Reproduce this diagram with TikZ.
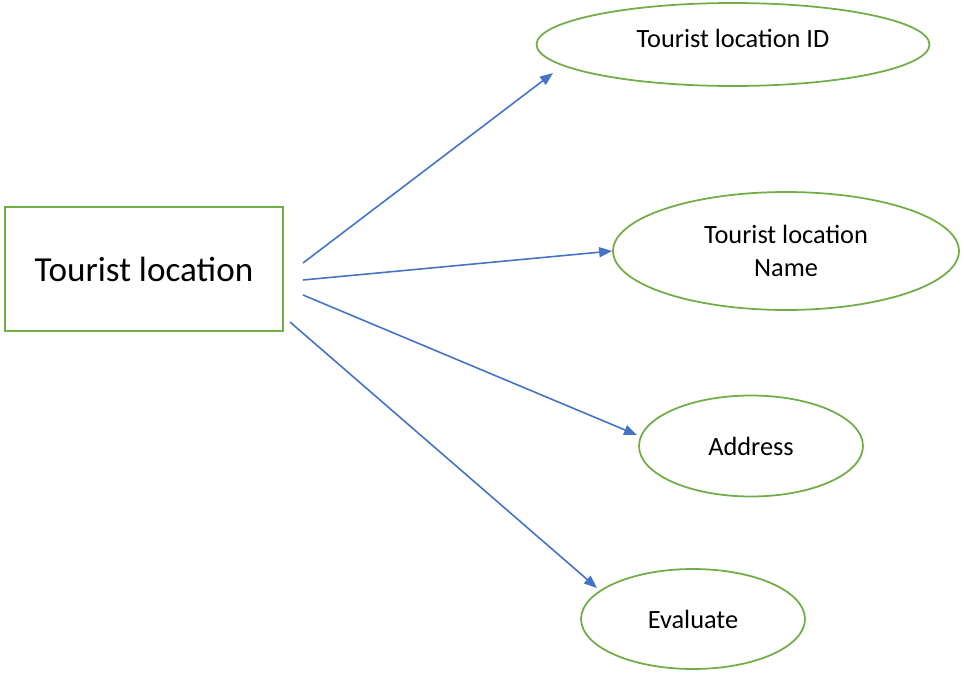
\documentclass[tikz,border=0pt]{standalone}
\usepackage{fontspec}
\setmainfont{Carlito}
\usetikzlibrary{arrows.meta,shapes.geometric}
\definecolor{tlgreen}{HTML}{70AD47}
\definecolor{tlblue}{HTML}{4472C4}

\begin{document}
\begin{tikzpicture}[x=0.02cm,y=-0.02cm,
  entitybox/.style={draw=tlgreen,line width=1pt,inner sep=0pt,
    minimum width=5.56cm,minimum height=2.48cm,font=\fontsize{20}{24}\selectfont},
  attr/.style={ellipse,draw=tlgreen,line width=1pt,inner sep=0pt,align=center,
    font=\fontsize{15}{18.5}\selectfont},
  conn/.style={tlblue,line width=0.9pt,-{Triangle[length=2.6mm,width=2mm]}}]
  \useasboundingbox (0,0) rectangle (964,673);
  % entity and its attributes
  \node[entitybox] (loc) at (144,269) {Tourist location};
  \node[attr,minimum width=7.86cm,minimum height=1.66cm,text depth=6.5pt] (locid) at (733,44.5) {Tourist location ID};
  \node[attr,minimum width=6.92cm,minimum height=2.36cm] (locname) at (786,251) {Tourist location\\Name};
  \node[attr,minimum width=4.48cm,minimum height=2.02cm] (addr) at (751,446) {Address};
  \node[attr,minimum width=4.48cm,minimum height=2.0cm] (eval) at (693,619) {Evaluate};
  % arrow ends
  \coordinate (s1) at (303,263);
  \coordinate (s2) at (303,280);
  \coordinate (s3) at (303,295);
  \coordinate (s4) at (290,322);
  \coordinate (e1) at (553,73);
  \coordinate (e3) at (637,435);
  \coordinate (e4) at (597,588);
  \draw[conn] (s1) -- (e1);
  \draw[conn] (s2) -- (locname.west);
  \draw[conn] (s3) -- (e3);
  \draw[conn] (s4) -- (e4);
\end{tikzpicture}
\end{document}
